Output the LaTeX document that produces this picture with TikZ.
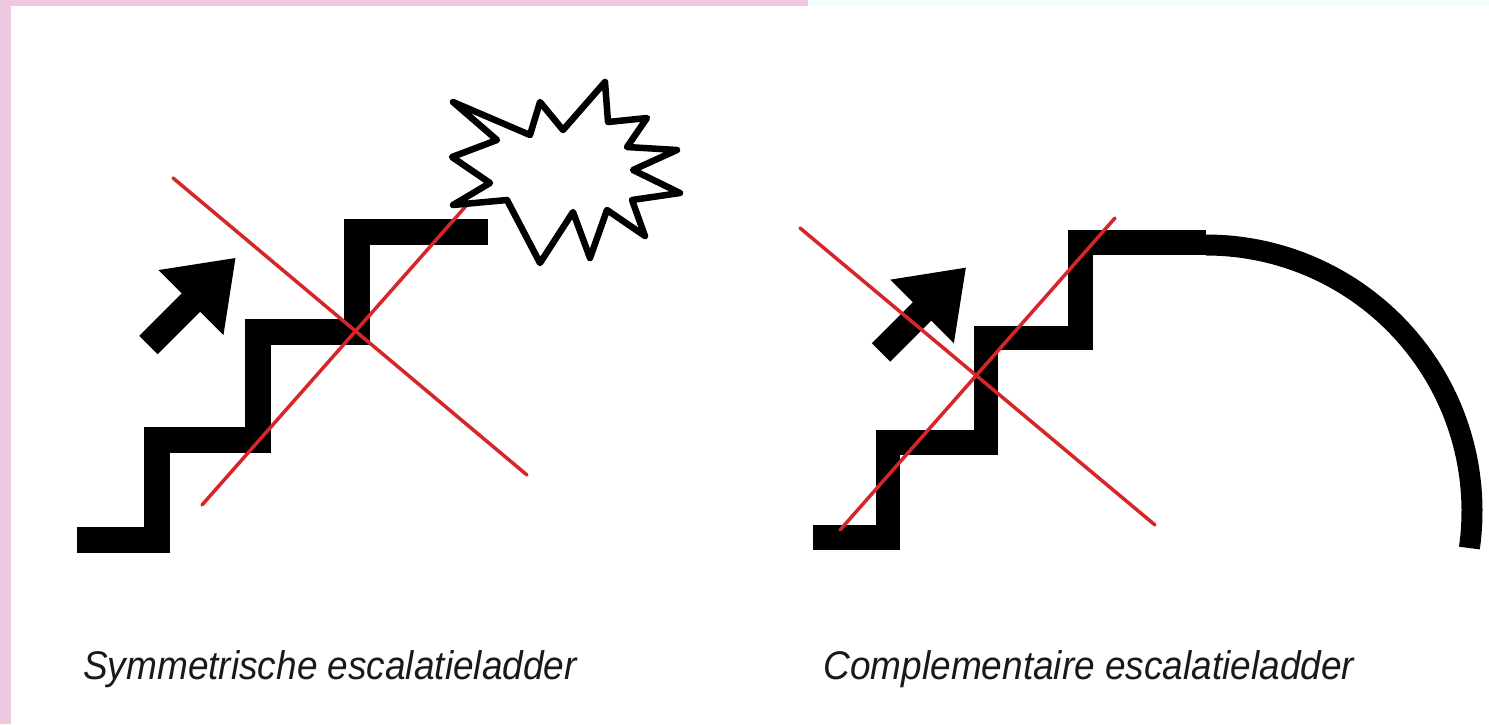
\documentclass[tikz,border=0pt]{standalone}
\usepackage{fontspec}
\newfontfamily\captionfont{Liberation Sans}
\usepackage{tikz}
\definecolor{pinkband}{RGB}{237, 201, 223}
\definecolor{cyanband}{RGB}{240, 254, 254}
\definecolor{crossred}{RGB}{214, 38, 42}
\tikzstyle{stair} = [draw=black, line width=26pt, line join=miter, line cap=butt]
\tikzstyle{fallcurve} = [draw=black, line width=21pt, line cap=butt]
\tikzstyle{cross} = [draw=crossred, line width=3.5pt, line cap=round]
\tikzstyle{uparrow} = [fill=black]
\tikzstyle{bang} = [draw=black, fill=white, line width=6.5pt, line join=round]
\tikzstyle{caption} = [inner sep=0pt, anchor=base, text=black!90, font=\captionfont\itshape\fontsize{37}{44}\selectfont]

\begin{document}
\begin{tikzpicture}[x=1pt, y=-1pt]

% page ==================================
\useasboundingbox (0,0) rectangle (1489,724);
\fill[white] (0,0) rectangle (1489,724);
\fill[pinkband] (0,0) rectangle (808,6);
\fill[pinkband] (0,0) rectangle (11,724);
\fill[cyanband] (808,0) rectangle (1489,6);

% symmetric ladder ======================

% stairs
\path[stair] (77,540) -- (156.5,540) -- (156.5,440) -- (257.5,440) -- (257.5,331.5) -- (356.5,331.5) -- (356.5,232) -- (488,232);

% arrow
\fill[uparrow, shift={(148.5,345)}, rotate=45] (0,-13) -- (60,-13) -- (60,-46) -- (123,0) -- (60,46) -- (60,13) -- (0,13) -- cycle;

% cross
\path[cross] (173,178) -- (527,475);
\path[cross] (202,505) -- (481,189);

% explosion
\path[bang] (453,102) -- (530,135) -- (540,102) -- (563,130) -- (605,82) -- (608,122) -- (647,118) -- (627,147) -- (677,150) -- (633,170) -- (680,193) -- (632,200) -- (645,236) -- (607,210) -- (590,258) -- (573,212) -- (540,263) -- (507,200) -- (453,205) -- (490,183) -- (452,157) -- (497,140) -- cycle;

% complementary ladder ==================

% stairs
\path[stair, line width=24.5pt] (813,537.5) -- (888,537.5) -- (888,442.5) -- (986,442.5) -- (986,338) -- (1080.5,338) -- (1080.5,242.5) -- (1206,242.5);
\path[fallcurve] (1206,245) arc[start angle=-90, end angle=8, radius=266];

% arrow
\fill[uparrow, shift={(881,352.5)}, rotate=45] (0,-13) -- (58,-13) -- (58,-45) -- (120,0) -- (58,45) -- (58,13) -- (0,13) -- cycle;

% cross
\path[cross] (800,228) -- (1155,525);
\path[cross] (840,530) -- (1115,218);

% captions ==============================
\node[caption] (capsym) at (330,679) {\scalebox{1}[1.08]{Symmetrische escalatieladder}};
\node[caption] (capcomp) at (1089,679) {\scalebox{1}[1.08]{Complementaire escalatieladder}};

\end{tikzpicture}
\end{document}
